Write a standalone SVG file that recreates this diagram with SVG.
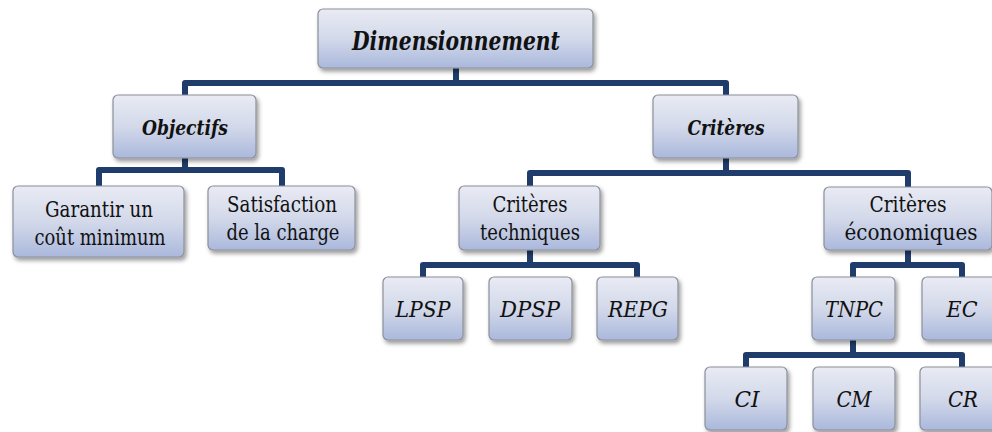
<svg xmlns="http://www.w3.org/2000/svg" width="992" height="432" viewBox="0 0 992 432">
  <defs>
    <linearGradient id="boxFill" x1="0" y1="0" x2="0" y2="1">
      <stop offset="0" stop-color="#e9ebf4"/>
      <stop offset="0.5" stop-color="#d3d9ea"/>
      <stop offset="1" stop-color="#aab8dc"/>
    </linearGradient>
    <filter id="shadow" x="-10%" y="-10%" width="125%" height="140%">
      <feDropShadow dx="2" dy="3" stdDeviation="2" flood-color="#000" flood-opacity="0.4"/>
    </filter>
  </defs>
  <style>
    .box { fill: url(#boxFill); stroke: #8c909a; stroke-width: 1.2; filter: url(#shadow); }
    .link { fill: none; stroke: #1f3c6a; stroke-width: 6; stroke-linejoin: round; }
    .lbl { font-family: "DejaVu Serif", serif; fill: #111; text-anchor: middle; }
    .main { font-weight: bold; font-style: italic; }
    .plain { font-size: 22px; }
    .leaf { font-size: 22px; font-style: italic; }
  </style>

  <!-- connectors -->
  <g id="connectors">
    <path class="link" d="M456 66 V83"/>
    <path class="link" d="M185 97 V83 H726 V97"/>
    <path class="link" d="M185 156 V170"/>
    <path class="link" d="M99 188 V170 H282 V188"/>
    <path class="link" d="M726 156 V173"/>
    <path class="link" d="M530 188 V173 H908 V189"/>
    <path class="link" d="M530 248 V265"/>
    <path class="link" d="M423 279 V265 H637 V279"/>
    <path class="link" d="M908 248 V265"/>
    <path class="link" d="M853 279 V265 H962 V279"/>
    <path class="link" d="M853 338 V355"/>
    <path class="link" d="M746 369 V355 H962 V369"/>
  </g>

  <!-- level 0 -->
  <g id="dimensionnement">
    <rect class="box" x="318" y="9" width="275" height="59" rx="5"/>
    <text class="lbl main" x="456" y="50" font-size="26" textLength="208" lengthAdjust="spacingAndGlyphs">Dimensionnement</text>
  </g>

  <!-- level 1 -->
  <g id="objectifs">
    <rect class="box" x="113" y="95" width="143" height="63" rx="5"/>
    <text class="lbl main" x="185" y="135" font-size="21" textLength="86" lengthAdjust="spacingAndGlyphs">Objectifs</text>
  </g>
  <g id="criteres">
    <rect class="box" x="653" y="95" width="145" height="63" rx="5"/>
    <text class="lbl main" x="726" y="135" font-size="21" textLength="77" lengthAdjust="spacingAndGlyphs">Critères</text>
  </g>

  <!-- level 2 -->
  <g id="garantir">
    <rect class="box" x="13" y="186" width="171" height="71" rx="5"/>
    <text class="lbl plain" x="99" y="217" textLength="108" lengthAdjust="spacingAndGlyphs">Garantir un</text>
    <text class="lbl plain" x="100" y="245" textLength="131" lengthAdjust="spacingAndGlyphs">coût minimum</text>
  </g>
  <g id="satisfaction">
    <rect class="box" x="208" y="186" width="147" height="64" rx="5"/>
    <text class="lbl plain" x="282" y="212" textLength="110" lengthAdjust="spacingAndGlyphs">Satisfaction</text>
    <text class="lbl plain" x="283" y="240" textLength="113" lengthAdjust="spacingAndGlyphs">de la charge</text>
  </g>
  <g id="criteres-techniques">
    <rect class="box" x="459" y="186" width="141" height="64" rx="5"/>
    <text class="lbl plain" x="530" y="212" textLength="75" lengthAdjust="spacingAndGlyphs">Critères</text>
    <text class="lbl plain" x="530" y="240" textLength="100" lengthAdjust="spacingAndGlyphs">techniques</text>
  </g>
  <g id="criteres-economiques">
    <rect class="box" x="824" y="187" width="168" height="63" rx="5"/>
    <text class="lbl plain" x="908" y="212" textLength="77" lengthAdjust="spacingAndGlyphs">Critères</text>
    <text class="lbl plain" x="911" y="240" textLength="133" lengthAdjust="spacingAndGlyphs">économiques</text>
  </g>

  <!-- level 3 -->
  <g id="lpsp">
    <rect class="box" x="383" y="277" width="80" height="63" rx="5"/>
    <text class="lbl leaf" x="423" y="317" textLength="55" lengthAdjust="spacingAndGlyphs">LPSP</text>
  </g>
  <g id="dpsp">
    <rect class="box" x="489" y="277" width="83" height="63" rx="5"/>
    <text class="lbl leaf" x="530" y="317" textLength="60" lengthAdjust="spacingAndGlyphs">DPSP</text>
  </g>
  <g id="repg">
    <rect class="box" x="597" y="277" width="81" height="63" rx="5"/>
    <text class="lbl leaf" x="638" y="317" textLength="60" lengthAdjust="spacingAndGlyphs">REPG</text>
  </g>
  <g id="tnpc">
    <rect class="box" x="812" y="277" width="83" height="63" rx="5"/>
    <text class="lbl leaf" x="854" y="317" textLength="58" lengthAdjust="spacingAndGlyphs">TNPC</text>
  </g>
  <g id="ec">
    <rect class="box" x="922" y="277" width="82" height="63" rx="5"/>
    <text class="lbl leaf" x="962" y="317" textLength="31" lengthAdjust="spacingAndGlyphs">EC</text>
  </g>

  <!-- level 4 -->
  <g id="ci">
    <rect class="box" x="705" y="367" width="82" height="63" rx="5"/>
    <text class="lbl leaf" x="747" y="407" textLength="25" lengthAdjust="spacingAndGlyphs">CI</text>
  </g>
  <g id="cm">
    <rect class="box" x="813" y="367" width="82" height="63" rx="5"/>
    <text class="lbl leaf" x="854" y="407" textLength="35" lengthAdjust="spacingAndGlyphs">CM</text>
  </g>
  <g id="cr">
    <rect class="box" x="920" y="367" width="83" height="63" rx="5"/>
    <text class="lbl leaf" x="963" y="407" textLength="30" lengthAdjust="spacingAndGlyphs">CR</text>
  </g>
</svg>
